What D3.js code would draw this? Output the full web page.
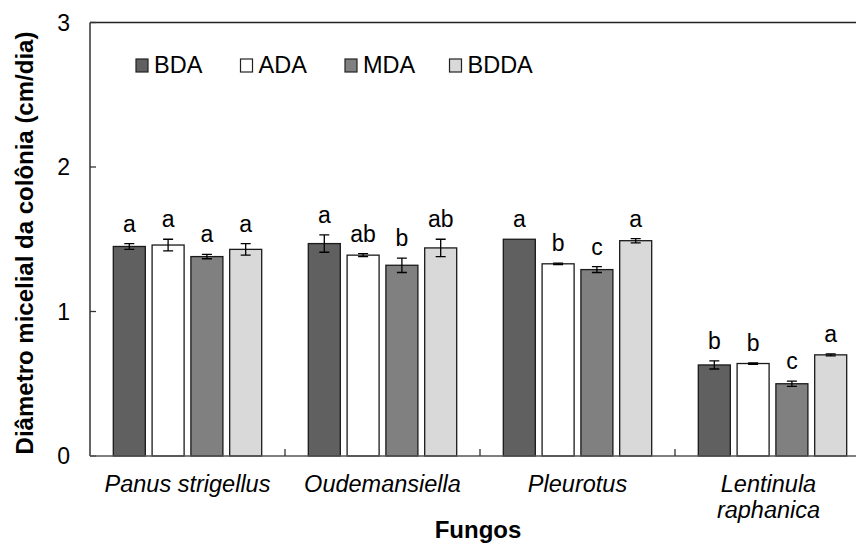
<!DOCTYPE html>
<html lang="en">
<head>
    <meta charset="UTF-8">
    <title>Diâmetro micelial</title>
    <style>
        body { margin: 0; background: #fff; }
        svg { font-family: "Liberation Sans", Arial, sans-serif; }
        .bar { stroke: #1a1a1a; stroke-width: 1.3px; }
        .err { stroke: #000; stroke-width: 1.3px; fill: none; }
        .letter { font-size: 23px; text-anchor: middle; fill: #000; }
        .tick-label { font-size: 23px; text-anchor: end; fill: #000; }
        .cat-label { font-size: 23.5px; font-style: italic; text-anchor: middle; fill: #000; }
        .axis-title { font-weight: bold; text-anchor: middle; fill: #000; }
        .legend-label { font-size: 23.5px; fill: #000; }
    </style>
</head>
<body>
<script src="https://d3js.org/d3.v7.min.js"></script>
<script>
    // categories (fungi) and media series
    const fungi = ["Panus strigellus", "Oudemansiella", "Pleurotus", "Lentinula raphanica"];
    const media = ["BDA", "ADA", "MDA", "BDDA"];
    const colors = ["#606060", "#ffffff", "#808080", "#d9d9d9"];

    // mean values per medium (one value per fungus)
    const bda  = [1.45, 1.47, 1.50, 0.63];
    const ada  = [1.46, 1.39, 1.33, 0.64];
    const mda  = [1.38, 1.32, 1.29, 0.50];
    const bdda = [1.43, 1.44, 1.49, 0.70];

    // error (+/-)
    const bdaErr  = [0.02, 0.06, 0.00, 0.028];
    const adaErr  = [0.04, 0.01, 0.005, 0.005];
    const mdaErr  = [0.015, 0.05, 0.02, 0.018];
    const bddaErr = [0.04, 0.06, 0.015, 0.007];

    // significance letters
    const bdaLet  = ["a", "a", "a", "b"];
    const adaLet  = ["a", "ab", "b", "b"];
    const mdaLet  = ["a", "b", "c", "c"];
    const bddaLet = ["a", "ab", "a", "a"];

    const yTicks = [0, 1, 2, 3];

    const values = [bda, ada, mda, bdda];
    const errs = [bdaErr, adaErr, mdaErr, bddaErr];
    const letters = [bdaLet, adaLet, mdaLet, bddaLet];

    const width = 856, height = 545;
    const mLeft = 90, mRight = 870, mTop = 22.5, mBottom = 456;

    const svg = d3.select("body").append("svg")
        .attr("width", width)
        .attr("height", height);

    const x = d3.scaleBand().domain(fungi).range([mLeft, mRight]).padding(0);
    const bw = x.bandwidth();
    const xs = d3.scaleBand().domain(media)
        .range([bw / 2 - 74.2, bw / 2 + 74.2])
        .paddingInner(0.175).paddingOuter(0);
    const y = d3.scaleLinear().domain([0, 3]).range([mBottom, mTop]);

    // flatten into rows
    const rows = [];
    fungi.forEach((f, i) => {
        media.forEach((m, j) => {
            rows.push({ fungus: f, medium: m, j: j, v: values[j][i], e: errs[j][i], l: letters[j][i] });
        });
    });

    // top border
    svg.append("line")
        .attr("x1", mLeft).attr("x2", width)
        .attr("y1", y(3)).attr("y2", y(3))
        .attr("stroke", "#222").attr("stroke-width", 1.5);

    // bars
    const g = svg.append("g");
    g.selectAll("rect")
        .data(rows)
        .enter().append("rect")
        .attr("class", "bar")
        .attr("x", d => x(d.fungus) + xs(d.medium))
        .attr("y", d => y(d.v))
        .attr("width", xs.bandwidth())
        .attr("height", d => y(0) - y(d.v))
        .attr("fill", d => colors[d.j]);

    // error bars
    const eb = g.selectAll(".eb")
        .data(rows.filter(d => d.e > 0))
        .enter().append("g");
    eb.append("path")
        .attr("class", "err")
        .attr("d", d => {
            const cx = x(d.fungus) + xs(d.medium) + xs.bandwidth() / 2;
            const y1 = y(d.v + d.e), y2 = y(d.v - d.e);
            return `M${cx},${y1}V${y2}M${cx - 5},${y1}H${cx + 5}M${cx - 5},${y2}H${cx + 5}`;
        });

    // letters
    g.selectAll(".letter")
        .data(rows)
        .enter().append("text")
        .attr("class", "letter")
        .attr("x", d => x(d.fungus) + xs(d.medium) + xs.bandwidth() / 2)
        .attr("y", d => y(d.v + d.e) - 12)
        .text(d => d.l);

    // y axis
    svg.append("line")
        .attr("x1", mLeft).attr("x2", mLeft)
        .attr("y1", y(3)).attr("y2", y(0))
        .attr("stroke", "#333").attr("stroke-width", 1.5);
    svg.selectAll(".ytick")
        .data(yTicks)
        .enter().append("line")
        .attr("x1", mLeft).attr("x2", mLeft + 6)
        .attr("y1", d => y(d)).attr("y2", d => y(d))
        .attr("stroke", "#333").attr("stroke-width", 1.3);
    svg.selectAll(".tick-label")
        .data(yTicks)
        .enter().append("text")
        .attr("class", "tick-label")
        .attr("x", mLeft - 20)
        .attr("y", d => y(d) + 8)
        .text(d => d);

    // x axis
    svg.append("line")
        .attr("x1", mLeft).attr("x2", width)
        .attr("y1", y(0)).attr("y2", y(0))
        .attr("stroke", "#555").attr("stroke-width", 1.5);
    svg.selectAll(".xtick")
        .data(fungi)
        .enter().append("line")
        .attr("x1", d => x(d) + bw).attr("x2", d => x(d) + bw)
        .attr("y1", y(0)).attr("y2", y(0) - 7)
        .attr("stroke", "#333").attr("stroke-width", 1.3);

    // category labels
    const cat = svg.selectAll(".cat-label")
        .data(fungi)
        .enter().append("text")
        .attr("class", "cat-label")
        .attr("x", d => x(d) + bw / 2)
        .attr("y", 492);
    cat.each(function(d) {
        const t = d3.select(this);
        if (d === "Lentinula raphanica") {
            t.append("tspan").attr("x", x(d) + bw / 2 - 4).text("Lentinula");
            t.append("tspan").attr("x", x(d) + bw / 2 - 4).attr("dy", 26).text("raphanica");
        } else {
            t.text(d);
        }
    });

    // axis titles
    svg.append("text")
        .attr("class", "axis-title")
        .style("font-size", "24px")
        .attr("x", 478).attr("y", 538)
        .text("Fungos");
    svg.append("text")
        .attr("class", "axis-title")
        .style("font-size", "24px")
        .attr("transform", "translate(33,243) rotate(-90)")
        .text("Diâmetro micelial da colônia (cm/dia)");

    // legend
    const lg = svg.append("g").attr("transform", "translate(136,59)");
    const li = lg.selectAll("g")
        .data(media)
        .enter().append("g")
        .attr("transform", (d, i) => `translate(${i * 104.5},0)`);
    li.append("rect")
        .attr("width", 12).attr("height", 13)
        .attr("fill", (d, i) => colors[i])
        .attr("stroke", "#222").attr("stroke-width", 1.2);
    li.append("text")
        .attr("class", "legend-label")
        .attr("x", 18).attr("y", 14)
        .text(d => d);
</script>
</body>
</html>
